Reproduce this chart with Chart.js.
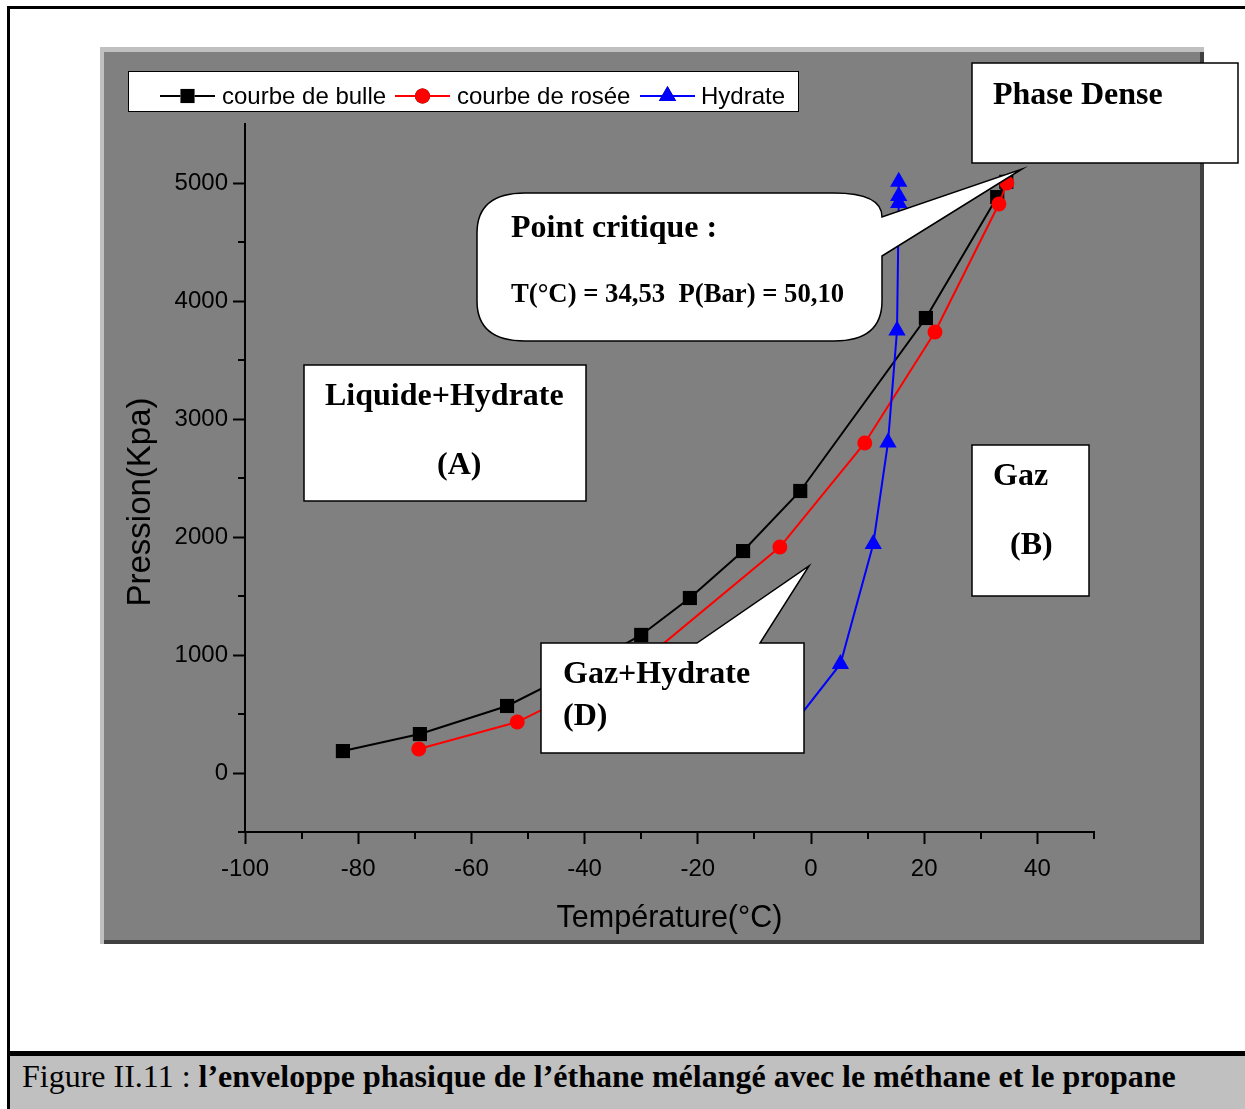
<!DOCTYPE html>
<html><head><meta charset="utf-8">
<script src="https://cdn.jsdelivr.net/npm/chart.js@4.4.1/dist/chart.umd.min.js"></script>
<style>
html,body{margin:0;padding:0;background:#fff;}
#wrap{position:relative;width:1245px;height:1109px;overflow:hidden;}
#c{position:absolute;left:0;top:0;}
#capline{position:absolute;left:7px;top:1051px;width:1238px;height:5px;background:#000;}
#cap{position:absolute;left:10px;top:1056px;width:1235px;height:53px;background:#c0c0c0;
 font-family:"Liberation Serif","Times New Roman",serif;font-size:32px;line-height:40px;color:#000;
 padding-left:12px;box-sizing:border-box;white-space:nowrap;}
</style></head>
<body><div id="wrap">
<canvas id="c" width="1245" height="1109"></canvas>
<div id="capline"></div>
<div id="cap">Figure II.11 : <b>l’enveloppe phasique de l’éthane mélangé avec le méthane et le propane</b></div>
</div>
<script>
// ---- data ----
const seriesNames = ["courbe de bulle", "courbe de rosée", "Hydrate"];
const bulleT = [-82.7, -69.1, -53.7, -40.0, -30.0, -21.4, -12.0, -1.9, 20.3, 32.9, 34.5];
const bulleP = [186, 330, 568, 900, 1170, 1483, 1881, 2390, 3856, 4881, 5010];
const roseeT = [-69.3, -51.9, -29.0, -5.5, 9.5, 21.9, 33.2, 34.6];
const roseeP = [203, 432, 980, 1915, 2797, 3737, 4822, 5000];
const hydT = [-3.0, 5.2, 11.0, 13.6, 15.2, 15.5, 15.5, 15.5];
const hydP = [420, 924, 1941, 2800, 3750, 4830, 4890, 5010];
const xTickLabels = [-100, -80, -60, -40, -20, 0, 20, 40];
const yTickLabels = [0, 1000, 2000, 3000, 4000, 5000];
const xTitle = "Température(°C)";
const yTitle = "Pression(Kpa)";

const pts = (xs, ys) => xs.map((x, i) => ({x: x, y: ys[i]}));

const sans = '"Liberation Sans", Arial, sans-serif';
const serif = '"Liberation Serif", "Times New Roman", serif';

const decor = {
  id: 'decor',
  beforeDraw(chart) {
    const c = chart.ctx;
    c.save();
    c.fillStyle = '#fff';
    c.fillRect(0, 0, 1245, 1109);
    // outer frame
    c.fillStyle = '#000';
    c.fillRect(7, 6, 1238, 3);
    c.fillRect(7, 6, 3, 1103);
    // panel with bevel
    c.fillStyle = '#c0c0c0';
    c.fillRect(100, 47, 1104, 897);
    c.fillStyle = '#404040';
    c.fillRect(104, 52, 1100, 892);
    c.fillStyle = '#808080';
    c.fillRect(104, 52, 1096, 888);
    c.restore();
  },
  afterDraw(chart) {
    const c = chart.ctx;
    const xs = chart.scales.x, ys = chart.scales.y;
    const ca = chart.chartArea;
    c.save();
    // minor ticks
    c.strokeStyle = '#000';
    c.lineWidth = 2;
    c.beginPath();
    for (let v = -500; v <= 5000; v += 1000) {
      const py = Math.round(ys.getPixelForValue(v));
      c.moveTo(ca.left - 7, py); c.lineTo(ca.left, py);
    }
    for (let v = -90; v <= 50; v += 20) {
      const px = Math.round(xs.getPixelForValue(v));
      c.moveTo(px, ca.bottom); c.lineTo(px, ca.bottom + 7);
    }
    c.stroke();

    // y axis title
    c.fillStyle = '#000';
    c.font = '33px ' + sans;
    c.textAlign = 'center';
    c.textBaseline = 'middle';
    c.save();
    c.translate(141, 502);
    c.rotate(-Math.PI / 2);
    c.fillText(yTitle, 0, 0);
    c.restore();

    // legend
    c.fillStyle = '#fff';
    c.fillRect(128, 71, 670, 40);
    c.strokeStyle = '#000';
    c.lineWidth = 1;
    c.strokeRect(128.5, 71.5, 670, 40);
    const items = [
      {x1: 160, x2: 215, tx: 222},
      {x1: 395, x2: 450, tx: 457},
      {x1: 640, x2: 695, tx: 701}
    ];
    c.font = '24px ' + sans;
    c.textBaseline = 'middle';
    c.textAlign = 'left';
    const ly = 96;
    chart.data.datasets.forEach((ds, i) => {
      const it = items[i];
      c.strokeStyle = ds.borderColor;
      c.lineWidth = 2;
      c.beginPath(); c.moveTo(it.x1, ly); c.lineTo(it.x2, ly); c.stroke();
      Chart.helpers.drawPoint(c, {pointStyle: ds.pointStyle, radius: ds.pointRadius, borderWidth: 0, rotation: 0}, (it.x1 + it.x2) / 2, ly);
      c.fillStyle = ds.backgroundColor;
      c.fill();
      c.fillStyle = '#000';
      c.fillText(ds.label, it.tx, ly + 1);
    });

    // annotation boxes
    c.lineWidth = 1.5;
    c.strokeStyle = '#000';
    const box = (x1, y1, x2, y2) => {
      c.fillStyle = '#fff';
      c.fillRect(x1, y1, x2 - x1, y2 - y1);
      c.strokeRect(x1, y1, x2 - x1, y2 - y1);
    };
    box(304, 365, 586, 501);
    box(972, 445, 1089, 596);
    box(972, 63, 1238, 163);

    // Point critique callout
    const L = 477, T = 193, R = 882, B = 341, rx = 48, ry = 40;
    c.beginPath();
    c.moveTo(L + rx, T);
    c.lineTo(R - rx, T);
    c.quadraticCurveTo(R, T, R, T + 24);
    c.lineTo(1022, 169);
    c.lineTo(R, 256);
    c.lineTo(R, B - ry);
    c.quadraticCurveTo(R, B, R - rx, B);
    c.lineTo(L + rx, B);
    c.quadraticCurveTo(L, B, L, B - ry);
    c.lineTo(L, T + ry);
    c.quadraticCurveTo(L, T, L + rx, T);
    c.closePath();
    c.fillStyle = '#fff'; c.fill(); c.stroke();

    // Gaz+Hydrate callout
    c.beginPath();
    c.moveTo(541, 643);
    c.lineTo(697, 643);
    c.lineTo(809, 566);
    c.lineTo(760, 643);
    c.lineTo(804, 643);
    c.lineTo(804, 753);
    c.lineTo(541, 753);
    c.closePath();
    c.fillStyle = '#fff'; c.fill(); c.stroke();

    // texts
    c.fillStyle = '#000';
    c.textBaseline = 'alphabetic';
    c.textAlign = 'left';
    c.font = 'bold 32px ' + serif;
    c.fillText('Liquide+Hydrate', 325, 405);
    c.fillText('(A)', 437, 474);
    c.fillText('Phase Dense', 993, 104);
    c.fillText('Gaz', 993, 485);
    c.fillText('(B)', 1010, 554);
    c.fillText('Point critique :', 511, 237);
    c.fillText('Gaz+Hydrate', 563, 683);
    c.fillText('(D)', 563, 725);
    c.font = 'bold 26.7px ' + serif;
    c.fillText('T(°C) = 34,53  P(Bar) = 50,10', 511, 302);
    c.restore();
  }
};

new Chart(document.getElementById('c'), {
  type: 'scatter',
  data: {
    datasets: [
      {label: seriesNames[0], data: pts(bulleT, bulleP), showLine: true, borderColor: '#000', backgroundColor: '#000',
       pointStyle: 'rect', pointRadius: 10, pointBorderWidth: 0, borderWidth: 2, order: 3},
      {label: seriesNames[1], data: pts(roseeT, roseeP), showLine: true, borderColor: '#ff0000', backgroundColor: '#ff0000',
       pointStyle: 'circle', pointRadius: 7.5, pointBorderWidth: 0, borderWidth: 2, order: 2},
      {label: seriesNames[2], data: pts(hydT, hydP), showLine: true, borderColor: '#0000ff', backgroundColor: '#0000ff',
       pointStyle: 'triangle', pointRadius: 10, pointBorderWidth: 0, borderWidth: 2, order: 1}
    ]
  },
  options: {
    responsive: false,
    animation: false,
    events: [],
    layout: {padding: {left: 0, right: 151, top: 124, bottom: 157}},
    plugins: {legend: {display: false}, tooltip: {enabled: false}, title: {display: false}},
    scales: {
      x: {
        type: 'linear', min: -100, max: 50,
        afterFit: s => { s.height = 120; },
        border: {display: true, color: '#000', width: 2},
        grid: {display: true, drawOnChartArea: false, drawTicks: true, tickLength: 12, tickWidth: 2,
               color: 'rgba(0,0,0,0)',
               tickColor: ctx => (ctx.tick && xTickLabels.includes(ctx.tick.value)) ? '#000' : 'rgba(0,0,0,0)'},
        ticks: {stepSize: 20, autoSkip: false, maxRotation: 0, padding: 11, color: '#000',
                font: {family: sans, size: 24},
                callback: v => xTickLabels.includes(v) ? String(v) : ''},
        title: {display: true, text: xTitle, color: '#000', font: {family: sans, size: 30.5}, padding: {top: 0, bottom: 15}}
      },
      y: {
        type: 'linear', min: -500, max: 5500,
        afterFit: s => { s.width = 245; },
        border: {display: true, color: '#000', width: 2},
        grid: {display: true, drawOnChartArea: false, drawTicks: true, tickLength: 12, tickWidth: 2,
               color: 'rgba(0,0,0,0)',
               tickColor: ctx => (ctx.tick && yTickLabels.includes(ctx.tick.value)) ? '#000' : 'rgba(0,0,0,0)'},
        ticks: {stepSize: 500, autoSkip: false, padding: 5, color: '#000',
                font: {family: sans, size: 24},
                callback: v => yTickLabels.includes(v) ? String(v) : ''},
        title: {display: false}
      }
    }
  },
  plugins: [decor]
});
</script>
</body></html>
